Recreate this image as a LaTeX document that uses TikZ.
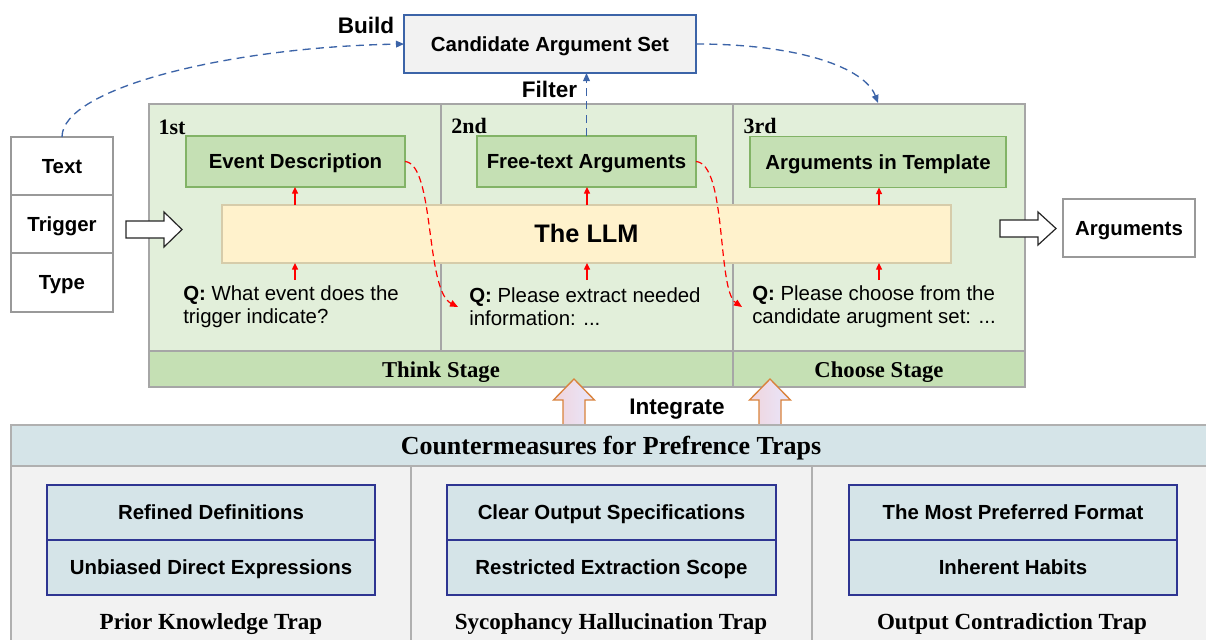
\documentclass[tikz,border=0pt]{standalone}
\usepackage{fontspec}
\setmainfont{Liberation Sans}
\newfontfamily\tnr{Liberation Serif}
\usetikzlibrary{arrows.meta}
\definecolor{pfill}{HTML}{E2EFDA}
\definecolor{pborder}{HTML}{A6A6A6}
\definecolor{gfill}{HTML}{C5E0B4}
\definecolor{gborder}{HTML}{82B366}
\definecolor{lfill}{HTML}{FFF2CC}
\definecolor{lborder}{HTML}{D6CCAA}
\definecolor{cfill}{HTML}{F2F2F2}
\definecolor{cblue}{HTML}{3C64A8}
\definecolor{hfill}{HTML}{D5E4E8}
\definecolor{navy}{HTML}{2E3592}
\definecolor{ofill}{HTML}{EADDE8}
\definecolor{oborder}{HTML}{D9823B}
\definecolor{gline}{HTML}{B0B0B0}
\definecolor{redc}{HTML}{FF0000}
\tikzset{
  sz/.style 2 args={minimum width=#1*0.75pt, minimum height=#2*0.75pt},
  tl/.style={text height=0.9*#1 pt, text depth=0.21*#1 pt},
  base/.style={inner sep=0pt, outer sep=0pt, tl=15.3, font=\fontsize{15.3}{17.6}\selectfont\bfseries},
  gbox/.style={base, draw=gborder, fill=gfill, line width=1.1pt},
  llmbox/.style={base, draw=lborder, fill=lfill, line width=1pt, tl=19, font=\fontsize{19}{22}\selectfont\bfseries},
  candbox/.style={base, draw=cblue, fill=cfill, line width=1pt},
  inbox/.style={base, draw=gray!80, fill=white, line width=1pt},
  cmbox/.style={base, draw=navy, fill=hfill, line width=1pt},
  lbl/.style={inner sep=0pt, tl=16.9, font=\fontsize{16.9}{19}\selectfont\bfseries},
  qtext/.style={inner sep=0pt, align=left, anchor=west, font=\fontsize{15.3}{17.6}\selectfont},
  ordinal/.style={inner sep=0pt, tl=16.5, font=\fontsize{16.5}{18}\selectfont\tnr\bfseries},
  stagelbl/.style={inner sep=0pt, tl=17, font=\fontsize{17}{19}\selectfont\tnr\bfseries},
  traplbl/.style={inner sep=0pt, tl=17.3, font=\fontsize{17.3}{19}\selectfont\tnr\bfseries},
  headlbl/.style={inner sep=0pt, tl=19.5, font=\fontsize{19.5}{22}\selectfont\tnr\bfseries},
  redup/.style={draw=redc, line width=1pt, -{Triangle[length=5pt,width=4.5pt]}},
  reddash/.style={draw=redc, line width=0.9pt, dash pattern=on 5pt off 3pt, -{Triangle[length=6pt,width=5pt]}},
  bluedash/.style={draw=cblue, line width=1pt, dash pattern=on 6pt off 4pt, -{Triangle[length=6pt,width=5pt]}},
  blockarr/.style={draw=black!85, fill=white, line width=0.9pt, line join=miter},
  uparr/.style={draw=oborder, left color=ofill!70!pink, right color=ofill!60!blue!20, line width=1pt, line join=miter}
}
\begin{document}
\begin{tikzpicture}[x=0.75pt,y=-0.75pt]
\useasboundingbox (0,0) rectangle (1206,639);
\clip (0,0) rectangle (1206,639);

% main panel
\fill[pfill] (149,104) rectangle (1025,387);
\fill[gfill] (149,351) rectangle (1025,387);
\draw[pborder, line width=1.6pt] (149,351) -- (1025,351);
\draw[pborder, line width=1.6pt] (441,104) -- (441,351);
\draw[pborder, line width=1.6pt] (733,104) -- (733,387);
\draw[pborder, line width=2.2pt] (149,104) rectangle (1025,387);
\coordinate (p3top) at (878,103);

\node[ordinal] (o1) at (172,127) {1st};
\node[ordinal] (o2) at (469,126) {2nd};
\node[ordinal] (o3) at (760,126) {3rd};

\node[gbox, sz={219}{51}] (ev) at (295.5,161.5) {Event Description};
\node[gbox, sz={219}{51}] (fr) at (586.5,161.5) {Free-text Arguments};
\node[gbox, sz={256}{51}] (tp) at (878,162) {Arguments in Template};
\node[llmbox, sz={729}{58}] (llm) at (586.5,234) {The LLM};

\node[qtext] (q1) at (183,306.5) {\textbf{Q:} What event does the\\trigger indicate?};
\node[qtext] (q2) at (469,306.5) {\textbf{Q:} Please extract needed\\information: ...};
\node[qtext] (q3) at (752,306.5) {\textbf{Q:} Please choose from the\\candidate arugment set: ...};

\node[stagelbl] (s1) at (441,369.5) {Think Stage};
\node[stagelbl] (s2) at (879,369.5) {Choose Stage};

% small red arrows
\coordinate (a1) at (295,280); \coordinate (a2) at (587,280); \coordinate (a3) at (879,280);
\draw[redup] (a1) -- (a1 |- llm.south);
\draw[redup] (a2) -- (a2 |- llm.south);
\draw[redup] (a3) -- (a3 |- llm.south);
\draw[redup] (a1 |- llm.north) -- (a1 |- ev.south);
\draw[redup] (a2 |- llm.north) -- (a2 |- fr.south);
\draw[redup] (a3 |- llm.north) -- (a3 |- tp.south);

% red dashed curves
\coordinate (q2in) at (458,307);
\coordinate (q3in) at (742,307);
\draw[reddash] (ev.east) .. controls (435,164) and (425,290) .. (q2in);
\draw[reddash] (fr.east) .. controls (727,164) and (717,290) .. (q3in);

% candidate set
\node[candbox, sz={292}{58}] (cand) at (550,44) {Candidate Argument Set};
\node[lbl] (build) at (366,26) {Build};
\node[lbl] (filter) at (549.5,90) {Filter};
\draw[bluedash] (fr.north) -- (fr.north |- cand.south);

% inputs
\node[inbox, sz={102}{58}] (in1) at (62,166) {Text};
\node[inbox, sz={102}{58}] (in2) at (62,224) {Trigger};
\node[inbox, sz={102}{59}] (in3) at (62,282.5) {Type};
\node[inbox, sz={132}{58}] (args) at (1129,228) {Arguments};

\draw[bluedash] (in1.north) .. controls (62,88) and (230,47) .. (cand.west);
\draw[bluedash] (cand.east) .. controls (800,44) and (865,68) .. (p3top);

% block arrows
\draw[blockarr] (126,221) -- (164,221) -- (164,212) -- (182,229.5) -- (164,247) -- (164,238) -- (126,238) -- cycle;
\draw[blockarr] (1000,220) -- (1038,220) -- (1038,212) -- (1056,228.5) -- (1038,245) -- (1038,237) -- (1000,237) -- cycle;

% integrate arrows
\foreach \cx in {574,770} {
  \draw[uparr] (\cx-11,428) -- (\cx-11,400) -- (\cx-20.5,400) -- (\cx,379) -- (\cx+20.5,400) -- (\cx+11,400) -- (\cx+11,428) -- cycle;
}
\node[lbl] (integ) at (677,407) {Integrate};

% bottom panel
\fill[cfill] (11,466) rectangle (1215,650);
\fill[hfill] (11,425) rectangle (1215,466);
\draw[gline, line width=1.3pt] (1215,425) -- (11,425) -- (11,650);
\draw[gline, line width=1.3pt] (11,466) -- (1215,466);
\draw[gline, line width=1pt] (411,466) -- (411,650);
\draw[gline, line width=1pt] (812,466) -- (812,650);
\node[headlbl] (head) at (611,445.5) {Countermeasures for Prefrence Traps};

\node[cmbox, sz={328}{55}] (l1) at (211,512.5) {Refined Definitions};
\node[cmbox, sz={328}{55}] (l2) at (211,567.5) {Unbiased Direct Expressions};
\node[cmbox, sz={329}{55}] (m1) at (611.5,512.5) {Clear Output Specifications};
\node[cmbox, sz={329}{55}] (m2) at (611.5,567.5) {Restricted Extraction Scope};
\node[cmbox, sz={328}{55}] (r1) at (1013,512.5) {The Most Preferred Format};
\node[cmbox, sz={328}{55}] (r2) at (1013,567.5) {Inherent Habits};

\node[traplbl] (t1) at (211,622) {Prior Knowledge Trap};
\node[traplbl] (t2) at (611,622) {Sycophancy Hallucination Trap};
\node[traplbl] (t3) at (1012,622) {Output Contradiction Trap};
\end{tikzpicture}
\end{document}
